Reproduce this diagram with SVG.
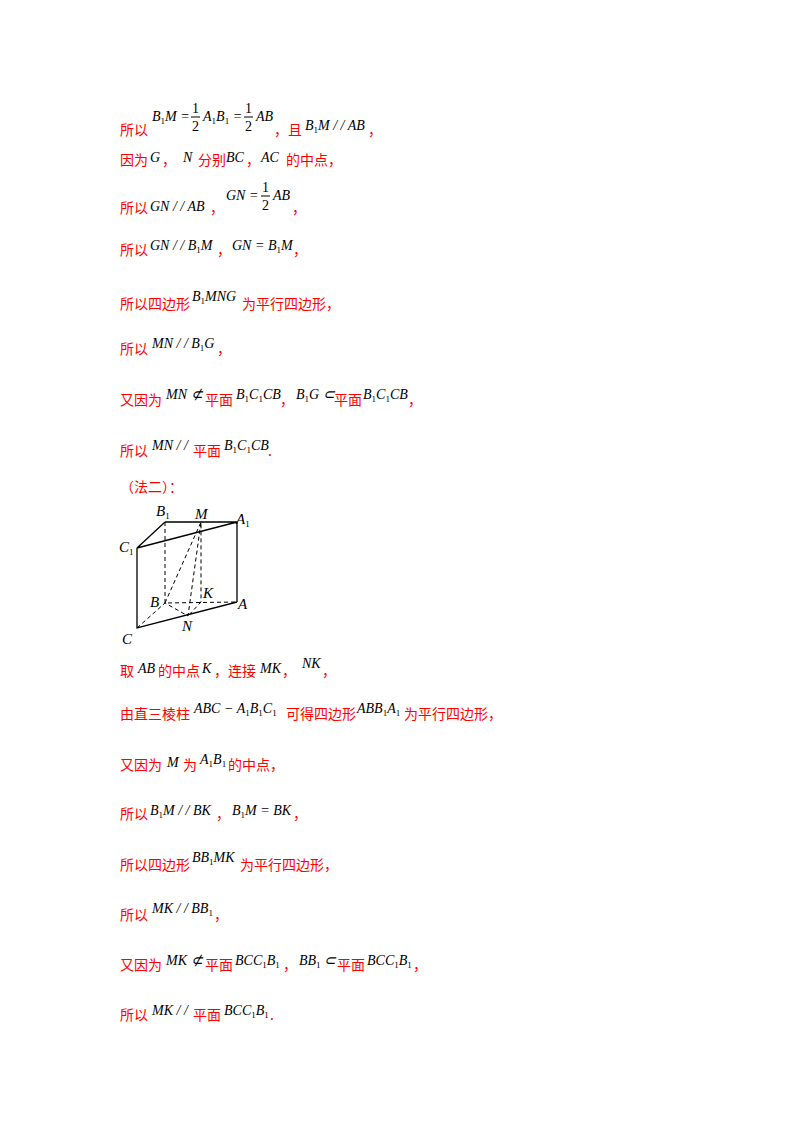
<svg xmlns="http://www.w3.org/2000/svg" width="800" height="1132" viewBox="0 0 800 1132">
<style>
.r{font-family:"Noto Sans CJK SC",sans-serif;font-size:14px;fill:#ff0000}
.m{font-family:"Liberation Serif",serif;font-size:14px;font-style:italic;fill:#000}
.n{font-family:"Liberation Serif",serif;font-size:14px;fill:#000}
.s{font-size:9px;font-style:normal}
.l{font-family:"Liberation Serif",serif;font-size:15px;font-style:italic;fill:#000}
.sol{stroke:#000;stroke-width:1.3;fill:none}
.das{stroke:#000;stroke-width:1;fill:none;stroke-dasharray:4 3}
</style>
<rect width="800" height="1132" fill="#fff"/>
<g id="text">
<text class="r" x="120" y="135">所以</text>
<text class="m" x="152" y="121">B<tspan class="s" dy="3">1</tspan><tspan dy="-3">M</tspan><tspan class="n"> = </tspan></text>
<text class="n" x="192" y="113">1</text><line x1="191" y1="117" x2="200" y2="117" stroke="#000"/><text class="n" x="192" y="131">2</text>
<text class="m" x="203" y="121">A<tspan class="s" dy="3">1</tspan><tspan dy="-3">B</tspan><tspan class="s" dy="3">1</tspan><tspan class="n" dy="-3"> = </tspan></text>
<text class="n" x="245" y="113">1</text><line x1="244" y1="117" x2="253" y2="117" stroke="#000"/><text class="n" x="245" y="131">2</text>
<text class="m" x="256" y="121">AB</text>
<text class="r" x="274" y="135">，且</text>
<text class="m" x="305" y="130">B<tspan class="s" dy="3">1</tspan><tspan dy="-3">M / / AB</tspan></text>
<text class="r" x="368" y="135">，</text>

<text class="r" x="120" y="165">因为</text><text class="m" x="150" y="162">G</text><text class="r" x="162" y="165">，</text>
<text class="m" x="183" y="162">N</text><text class="r" x="198" y="165">分别</text><text class="m" x="226" y="162">BC</text><text class="r" x="246" y="165">，</text>
<text class="m" x="261" y="162">AC</text><text class="r" x="286" y="165">的中点，</text>

<text class="r" x="120" y="213">所以</text><text class="m" x="150" y="211">GN / / AB</text><text class="r" x="210" y="213">，</text>
<text class="m" x="226" y="200">GN<tspan class="n"> = </tspan></text>
<text class="n" x="262" y="192">1</text><line x1="261" y1="196" x2="270" y2="196" stroke="#000"/><text class="n" x="262" y="210">2</text>
<text class="m" x="273" y="200">AB</text><text class="r" x="292" y="213">，</text>

<text class="r" x="120" y="255">所以</text><text class="m" x="150" y="250">GN / / B<tspan class="s" dy="3">1</tspan><tspan dy="-3">M</tspan></text><text class="r" x="217" y="255">，</text>
<text class="m" x="232" y="250">GN<tspan class="n"> = </tspan>B<tspan class="s" dy="3">1</tspan><tspan dy="-3">M</tspan></text><text class="r" x="293" y="255">，</text>

<text class="r" x="120" y="309">所以四边形</text><text class="m" x="192" y="301">B<tspan class="s" dy="3">1</tspan><tspan dy="-3">MNG</tspan></text><text class="r" x="242" y="309">为平行四边形，</text>

<text class="r" x="120" y="354">所以</text><text class="m" x="152" y="348">MN / / B<tspan class="s" dy="3">1</tspan><tspan dy="-3">G</tspan></text><text class="r" x="217" y="354">，</text>

<text class="r" x="120" y="405">又因为</text><text class="m" x="166" y="399">MN<tspan class="n"> ⊄ </tspan></text><text class="r" x="205" y="405">平面</text>
<text class="m" x="236" y="399">B<tspan class="s" dy="3">1</tspan><tspan dy="-3">C</tspan><tspan class="s" dy="3">1</tspan><tspan dy="-3">CB</tspan></text><text class="r" x="280" y="405">，</text>
<text class="m" x="296" y="399">B<tspan class="s" dy="3">1</tspan><tspan dy="-3">G</tspan><tspan class="n"> ⊂ </tspan></text><text class="r" x="334" y="405">平面</text>
<text class="m" x="363" y="399">B<tspan class="s" dy="3">1</tspan><tspan dy="-3">C</tspan><tspan class="s" dy="3">1</tspan><tspan dy="-3">CB</tspan></text><text class="r" x="408" y="405">，</text>

<text class="r" x="120" y="456">所以</text><text class="m" x="152" y="450">MN / / </text><text class="r" x="193" y="456">平面</text>
<text class="m" x="224" y="450">B<tspan class="s" dy="3">1</tspan><tspan dy="-3">C</tspan><tspan class="s" dy="3">1</tspan><tspan dy="-3">CB</tspan></text><text class="r" x="268" y="456">.</text>

<text class="r" x="120" y="492">（法二）：</text>

<text class="r" x="120" y="676">取</text><text class="m" x="138" y="673">AB</text><text class="r" x="158" y="676">的中点</text><text class="m" x="202" y="673">K</text><text class="r" x="214" y="676">，连接</text>
<text class="m" x="260" y="673">MK</text><text class="r" x="282" y="676">，</text><text class="m" x="302" y="668">NK</text><text class="r" x="322" y="676">，</text>

<text class="r" x="120" y="719">由直三棱柱</text><text class="m" x="194" y="713">ABC<tspan class="n"> − </tspan>A<tspan class="s" dy="3">1</tspan><tspan dy="-3">B</tspan><tspan class="s" dy="3">1</tspan><tspan dy="-3">C</tspan><tspan class="s" dy="3">1</tspan></text>
<text class="r" x="286" y="719">可得四边形</text><text class="m" x="357" y="713">ABB<tspan class="s" dy="3">1</tspan><tspan dy="-3">A</tspan><tspan class="s" dy="3">1</tspan></text><text class="r" x="404" y="719">为平行四边形，</text>

<text class="r" x="120" y="770">又因为</text><text class="m" x="167" y="767">M</text><text class="r" x="183" y="770">为</text><text class="m" x="200" y="764">A<tspan class="s" dy="3">1</tspan><tspan dy="-3">B</tspan><tspan class="s" dy="3">1</tspan></text><text class="r" x="228" y="770">的中点，</text>

<text class="r" x="120" y="819">所以</text><text class="m" x="150" y="815">B<tspan class="s" dy="3">1</tspan><tspan dy="-3">M / / BK</tspan></text><text class="r" x="216" y="819">，</text>
<text class="m" x="232" y="815">B<tspan class="s" dy="3">1</tspan><tspan dy="-3">M</tspan><tspan class="n"> = </tspan>BK</text><text class="r" x="293" y="819">，</text>

<text class="r" x="120" y="870">所以四边形</text><text class="m" x="192" y="862">BB<tspan class="s" dy="3">1</tspan><tspan dy="-3">MK</tspan></text><text class="r" x="240" y="870">为平行四边形，</text>

<text class="r" x="120" y="920">所以</text><text class="m" x="152" y="913">MK / / BB<tspan class="s" dy="3">1</tspan></text><text class="r" x="214" y="920">，</text>

<text class="r" x="120" y="970">又因为</text><text class="m" x="166" y="965">MK<tspan class="n"> ⊄ </tspan></text><text class="r" x="205" y="970">平面</text>
<text class="m" x="235" y="965">BCC<tspan class="s" dy="3">1</tspan><tspan dy="-3">B</tspan><tspan class="s" dy="3">1</tspan></text><text class="r" x="283" y="970">，</text>
<text class="m" x="299" y="965">BB<tspan class="s" dy="3">1</tspan><tspan class="n" dy="-3"> ⊂ </tspan></text><text class="r" x="337" y="970">平面</text>
<text class="m" x="367" y="965">BCC<tspan class="s" dy="3">1</tspan><tspan dy="-3">B</tspan><tspan class="s" dy="3">1</tspan></text><text class="r" x="413" y="970">，</text>

<text class="r" x="120" y="1020">所以</text><text class="m" x="152" y="1015">MK / / </text><text class="r" x="193" y="1020">平面</text>
<text class="m" x="224" y="1015">BCC<tspan class="s" dy="3">1</tspan><tspan dy="-3">B</tspan><tspan class="s" dy="3">1</tspan></text><text class="r" x="270" y="1020">.</text>
</g>
<g id="figure">
<g id="solid">
<path class="sol" d="M165 522 L237 522 L237 602 M165 522 L137 548 L237 522 M137 548 L137 628 L237 602"/>
</g>
<g id="dashed">
<path class="das" d="M165 522 L165 603 L237 602 M137 628 L165 603 L188 616 L201 522 M165 603 L201 522 L201 602 L188 616"/>
</g>
<g id="labels">
<text class="l" x="156" y="516">B<tspan class="s" dy="3">1</tspan></text>
<text class="l" x="195" y="519">M</text>
<text class="l" x="236" y="524">A<tspan class="s" dy="3">1</tspan></text>
<text class="l" x="119" y="552">C<tspan class="s" dy="3">1</tspan></text>
<text class="l" x="150" y="607">B</text>
<text class="l" x="203" y="598">K</text>
<text class="l" x="238" y="609">A</text>
<text class="l" x="182" y="631">N</text>
<text class="l" x="122" y="644">C</text>
</g>
</g>
</svg>
